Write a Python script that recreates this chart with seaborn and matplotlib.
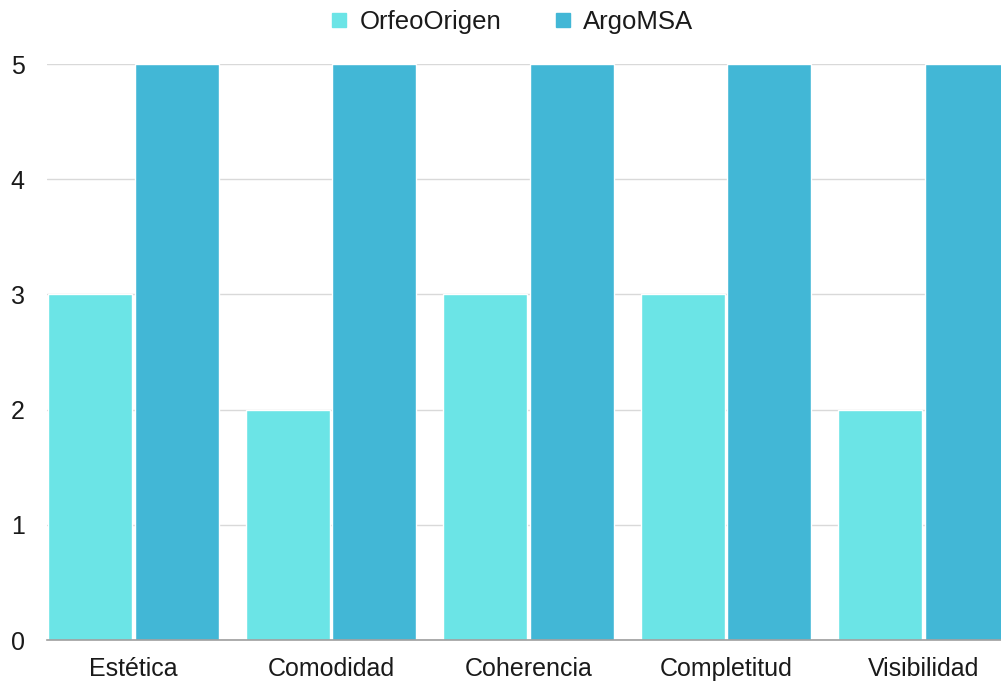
import pandas as pd
import seaborn as sns
import matplotlib.pyplot as plt

categories = ['Estética', 'Comodidad', 'Coherencia', 'Completitud', 'Visibilidad']
orfeo = [3, 2, 3, 3, 2]
argo = [5, 5, 5, 5, 5]
series = ['OrfeoOrigen', 'ArgoMSA']
colors = ['#6be4e6', '#42b7d6']

df = pd.DataFrame({
    'cat': categories * 2,
    'val': orfeo + argo,
    'serie': [series[0]] * 5 + [series[1]] * 5,
})

sns.set_style('white')
plt.rcParams['font.family'] = ['Liberation Sans', 'DejaVu Sans']

fig = plt.figure(figsize=(10.01, 6.84), dpi=100)
ax = fig.add_axes([0.047, 0.0643, 0.953, 0.8421])

sns.barplot(data=df, x='cat', y='val', hue='serie', palette=colors,
            width=0.876, gap=0.025, ax=ax, legend=False, saturation=1)

ax.set_xlim(-0.438, 4.392)
ax.set_ylim(0, 5)
ax.set_yticks([0, 1, 2, 3, 4, 5])
ax.yaxis.grid(True, color='#d9d9d9', linewidth=1)
ax.set_axisbelow(True)
for s in ['top', 'right', 'left']:
    ax.spines[s].set_visible(False)
ax.spines['bottom'].set_color('#9e9e9e')
ax.spines['bottom'].set_linewidth(1.2)
ax.spines['bottom'].set_zorder(5)
ax.tick_params(axis='both', length=0, labelsize=18, colors='#1a1a1a')
ax.tick_params(axis='y', pad=16)
ax.tick_params(axis='x', pad=12)
ax.set_xlabel('')
ax.set_ylabel('')

handles = [plt.Line2D([], [], marker='s', linestyle='', markersize=10,
                      color=c) for c in colors]
fig.legend(handles, series, loc='center', bbox_to_anchor=(0.508, 0.968),
           ncol=2, frameon=False, fontsize=18.5, handletextpad=0.2,
           columnspacing=1.8, handlelength=1.2, labelcolor='#1a1a1a')

plt.savefig('out.png', dpi=100)
